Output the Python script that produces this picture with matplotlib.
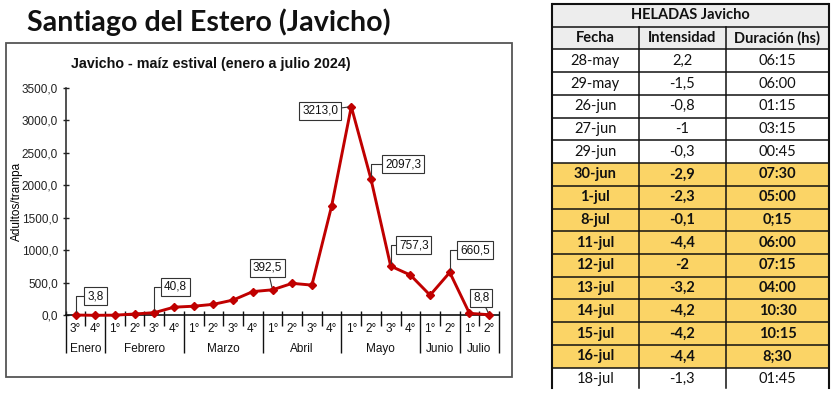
import matplotlib
matplotlib.use("Agg")
import matplotlib.pyplot as plt
import matplotlib.transforms as mtransforms
from matplotlib.patches import Rectangle

# ---------------- data ----------------
groups = ["Enero", "Febrero", "Marzo", "Abril", "Mayo", "Junio", "Julio"]
group_weeks = [["3°", "4°"], ["1°", "2°", "3°", "4°"], ["1°", "2°", "3°", "4°"],
               ["1°", "2°", "3°", "4°"], ["1°", "2°", "3°", "4°"], ["1°", "2°"], ["1°", "2°"]]
values = [3.8, 0.0, 2.0, 20.0, 40.8, 125.0, 140.0, 169.0, 235.0, 365.0, 392.5,
          492.0, 465.0, 1680.0, 3213.0, 2097.3, 757.3, 620.0, 310.0, 660.5, 30.0, 8.8]
labelled = {0: 3.8, 4: 40.8, 10: 392.5, 14: 3213.0, 15: 2097.3, 16: 757.3, 19: 660.5, 21: 8.8}
yticks = [0, 500, 1000, 1500, 2000, 2500, 3000, 3500]

table_title = "HELADAS Javicho"
table_cols = ["Fecha", "Intensidad", "Duración (hs)"]
fechas = ["28-may", "29-may", "26-jun", "27-jun", "29-jun", "30-jun", "1-jul", "8-jul",
          "11-jul", "12-jul", "13-jul", "14-jul", "15-jul", "16-jul", "18-jul"]
intensidad = ["2,2", "-1,5", "-0,8", "-1", "-0,3", "-2,9", "-2,3", "-0,1",
              "-4,4", "-2", "-3,2", "-4,2", "-4,2", "-4,4", "-1,3"]
duracion = ["06:15", "06:00", "01:15", "03:15", "00:45", "07:30", "05:00", "0;15",
            "06:00", "07:15", "04:00", "10:30", "10:15", "8;30", "01:45"]
destacado = [False, False, False, False, False, True, True, True,
             True, True, True, True, True, True, False]

# ---------------- figure ----------------
W, H = 835, 393
fig = plt.figure(figsize=(W / 100, H / 100), dpi=100)
fig.patch.set_facecolor("white")

def fx(px):
    return px / W

def fy(py):
    return 1 - py / H

sfont = ["Liberation Sans", "DejaVu Sans"]
fs = 8.5

# overlay axes in pixel coordinates (for title, border, table)
ov = fig.add_axes([0, 0, 1, 1], zorder=0)
ov.set_xlim(0, W)
ov.set_ylim(H, 0)
ov.axis("off")

ov.text(209, 22, "Santiago del Estero (Javicho)", ha="center", va="center",
        fontsize=20.6, fontweight="bold", family=["Lato", "DejaVu Sans"], color="#111111")
ov.add_patch(Rectangle((6, 43), 506, 334, fill=False, ec="#555555", lw=1.3))
ov.text(211, 64, "Javicho - maíz estival (enero a julio 2024)", ha="center", va="center",
        fontsize=10.3, fontweight="bold", family=sfont, color="#111111")

# ---------------- chart ----------------
ax_l, ax_r, ax_b, ax_t = 65.7, 499.0, 315.3, 88.0
ax = fig.add_axes([fx(ax_l), fy(ax_b), (ax_r - ax_l) / W, (ax_b - ax_t) / H], zorder=2)
ax.patch.set_alpha(0)
n = len(values)
xs = list(range(n))
ax.set_xlim(-0.5, n - 0.5)
ax.set_ylim(0, 3500)
for s in ["top", "right"]:
    ax.spines[s].set_visible(False)
ax.spines["left"].set_color("#222222")
ax.spines["bottom"].set_color("#111111")
ax.spines["left"].set_linewidth(1.1)
ax.spines["bottom"].set_linewidth(1.2)
ax.set_yticks(yticks)
ax.set_yticklabels([f"{v:.1f}".replace(".", ",") for v in yticks], family=sfont, fontsize=fs)
ax.tick_params(axis="y", direction="inout", length=5, width=1, pad=3, colors="#222222")
ax.set_xticks([])
ax.set_ylabel("Adultos/trampa", family=sfont, fontsize=fs, va="center")
ax.yaxis.set_label_coords((17 - ax_l) / (ax_r - ax_l), 0.5)

ax.plot(xs, values, color="#C00000", lw=2.1, marker="D", markersize=4.4,
        markerfacecolor="#C00000", markeredgecolor="#C00000", zorder=3, clip_on=False)

# x category axis (two levels)
trans = mtransforms.blended_transform_factory(ax.transData, ax.transAxes)
hpx = ax_b - ax_t
top_frac = 4.0 / hpx
minor_frac = -11.0 / hpx
major_frac = -38.0 / hpx
group_edges = [0]
for wk in group_weeks:
    group_edges.append(group_edges[-1] + len(wk))
for k in range(n + 1):
    bottom = major_frac if k in group_edges else minor_frac
    ax.plot([k - 0.5, k - 0.5], [top_frac, bottom], color="#111111", lw=1.0,
            transform=trans, clip_on=False, solid_capstyle="butt")
i = 0
for g, wk in zip(groups, group_weeks):
    start = i
    for w in wk:
        ax.text(i, -14.0 / hpx, w, transform=trans, ha="center", va="center",
                fontsize=fs, family=sfont, color="#111111")
        i += 1
    ax.text((start + i - 1) / 2, -33.5 / hpx, g, transform=trans, ha="center", va="center",
            fontsize=fs, family=sfont, color="#111111")

# data labels
offsets = {0: (20, 19), 4: (21, 26), 10: (-5, 22), 14: (-31, -4), 15: (32, 15),
           16: (23, 21), 19: (25, 22), 21: (-8, 17)}
elbow = {0, 4, 15, 16, 19}
for idx, v in labelled.items():
    dx, dy = offsets[idx]
    cs = "angle,angleA=0,angleB=90,rad=0" if idx in elbow else "arc3"
    ax.annotate(f"{v:.1f}".replace(".", ","), xy=(idx, values[idx]), xytext=(dx, dy),
                textcoords="offset pixels", ha="center", va="center",
                fontsize=fs, family=sfont, color="#111111",
                bbox=dict(boxstyle="square,pad=0.25", fc="white", ec="#333333", lw=0.8),
                arrowprops=dict(arrowstyle="-", color="#333333", lw=0.8,
                                shrinkA=0, shrinkB=2, connectionstyle=cs),
                zorder=5, annotation_clip=False)

# ---------------- table ----------------
tx = [551.7, 639.0, 725.7, 829.3]
t_top = 4.0
rh = 22.73
n_rows = len(fechas)
header_bg = "#EDEDED"
yellow = "#FBD466"
tfont = ["Lato", "DejaVu Sans"]
tfs = 10.5

ov.add_patch(Rectangle((tx[0], t_top), tx[-1] - tx[0], 2 * rh, fc=header_bg, ec="none"))
for r in range(n_rows):
    if destacado[r]:
        y0 = t_top + (r + 2) * rh
        ov.add_patch(Rectangle((tx[0], y0), tx[-1] - tx[0], rh, fc=yellow, ec="none"))

ov.text((tx[0] + tx[-1]) / 2, t_top + 0.5 * rh, table_title, ha="center", va="center",
        fontsize=tfs, fontweight="bold", family=tfont, color="#111111")
for c, name in enumerate(table_cols):
    ov.text((tx[c] + tx[c + 1]) / 2, t_top + 1.5 * rh, name, ha="center", va="center",
            fontsize=tfs, fontweight="bold", family=tfont, color="#111111")
for r in range(n_rows):
    yc = t_top + (r + 2.5) * rh
    fw = "bold" if destacado[r] else "normal"
    for c, val in enumerate([fechas[r], intensidad[r], duracion[r]]):
        ov.text((tx[c] + tx[c + 1]) / 2, yc, val, ha="center", va="center",
                fontsize=tfs, fontweight=fw, family=tfont, color="#111111")

t_bottom = t_top + (n_rows + 2) * rh
# horizontal lines
for r in range(n_rows + 2):
    y = t_top + r * rh
    ov.plot([tx[0], tx[-1]], [y, y], color="#111111", lw=1.5 if r == 0 else 1.1,
            solid_capstyle="butt")
# vertical lines
ov.plot([tx[0], tx[0]], [t_top, t_bottom - 2], color="#111111", lw=1.5)
ov.plot([tx[-1], tx[-1]], [t_top, t_bottom - 2], color="#111111", lw=1.5)
for xv in tx[1:-1]:
    ov.plot([xv, xv], [t_top + rh, t_bottom - 2], color="#111111", lw=1.1)

fig.savefig("out.png", dpi=100, facecolor="white")
